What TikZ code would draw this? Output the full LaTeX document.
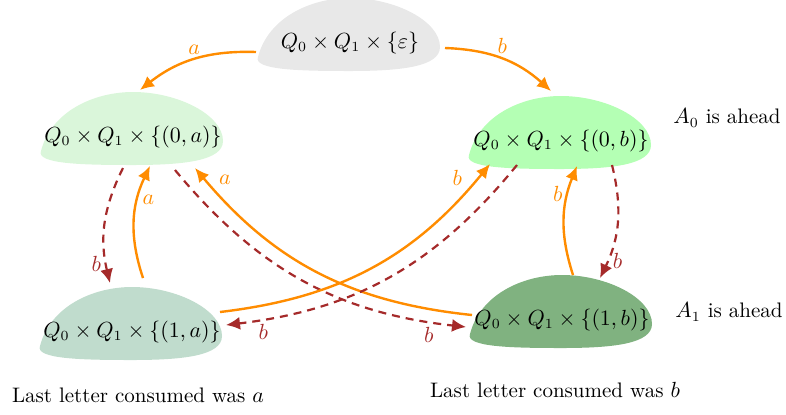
\documentclass[tikz,border=0pt]{standalone}
\usetikzlibrary{arrows.meta,calc,backgrounds}

\definecolor{arcorange}{RGB}{255,140,0}
\definecolor{arcbrown}{RGB}{165,42,42}
\definecolor{fillgray}{RGB}{232,232,232}
\definecolor{fillpale}{RGB}{218,246,218}
\definecolor{fillbright}{RGB}{180,255,180}
\definecolor{fillsage}{RGB}{192,220,205}
\definecolor{filldark}{RGB}{128,178,128}

% a blob round the state node #1, filled with #2
\newcommand{\stateblob}[2]{%
  \fill[#2] ($(#1)+(-92,14)$) .. controls ($(#1)+(-82,-25)$) and ($(#1)+(-40,-45)$) .. ($(#1)+(0,-45)$)
    .. controls ($(#1)+(45,-45)$) and ($(#1)+(90,-22)$) .. ($(#1)+(90,4)$)
    .. controls ($(#1)+(90,24)$) and ($(#1)+(50,28)$) .. ($(#1)+(0,28)$)
    .. controls ($(#1)+(-50,28)$) and ($(#1)+(-97,27)$) .. ($(#1)+(-92,14)$) -- cycle;}

\begin{document}
\begin{tikzpicture}[x=0.5pt,y=-0.5pt,
  font=\fontsize{10.5}{13}\selectfont,
  state/.style={inner sep=0pt},
  trans/.style={color=arcorange,line width=1.2pt,-{Latex[length=7pt,width=6.5pt]}},
  back/.style={color=arcbrown,line width=1.1pt,dash pattern=on 4pt off 3pt,-{Latex[length=7pt,width=6.5pt]}},
  lbl/.style={inner sep=2pt}]

\useasboundingbox (0,0) rectangle (786,414);

% The states
\node[state] (top) at (350,43) {$Q_0\times Q_1\times\{\varepsilon\}$};
\node[state] (l1) at (133,137) {$Q_0\times Q_1\times\{(0,a)\}$};
\node[state] (r1) at (561,141) {$Q_0\times Q_1\times\{(0,b)\}$};
\node[state] (l2) at (132,332) {$Q_0\times Q_1\times\{(1,a)\}$};
\node[state] (r2) at (562,320) {$Q_0\times Q_1\times\{(1,b)\}$};

% The blobs
\begin{scope}[on background layer]
\stateblob{top}{fillgray}
\stateblob{l1}{fillpale}
\stateblob{r1}{fillbright}
\stateblob{l2}{fillsage}
\stateblob{r2}{filldark}
\end{scope}

% The side texts
\node (ahead0) at (727,118) {$A_0$ is ahead};
\node (ahead1) at (729,312) {$A_1$ is ahead};
\node (lasta) at (138,395) {Last letter consumed was $a$};
\node (lastb) at (555,390) {Last letter consumed was $b$};

% The first letters
\draw[trans] ($(top)+(-94,9)$) to[bend right=20] node[lbl,above] {$a$} ($(l1)+(7,-47)$);
\draw[trans] ($(top)+(95,5)$) to[bend left=20] node[lbl,above] {$b$} ($(r1)+(-10,-50)$);

% The left column
\draw[back] ($(l1)+(-10,31)$) to[bend right=20] node[lbl,pos=0.85,left] {$b$} ($(l2)+(-22,-49)$);
\draw[trans] ($(l2)+(11,-54)$) to[bend left=22] node[lbl,pos=0.7,right] {$a$} ($(l1)+(17,29)$);

% The right column
\draw[back] ($(r1)+(51,24)$) to[bend left=20] node[lbl,pos=0.85,right] {$b$} ($(r2)+(38,-42)$);
\draw[trans] ($(r2)+(11,-45)$) to[bend left=20] node[lbl,pos=0.75,left] {$b$} ($(r1)+(16,25)$);

% The crossings
\draw[back] ($(l1)+(42,33)$) to[bend right=22] node[lbl,pos=0.9,below] {$b$} ($(r2)+(-96,7)$);
\draw[trans] ($(r2)+(-90,-5)$) to[bend left=22] node[lbl,pos=0.92,above right] {$a$} ($(l1)+(62,31)$);
\draw[trans] ($(l2)+(88,-20)$) to[bend right=22] node[lbl,pos=0.9,above left] {$b$} ($(r1)+(-71,23)$);
\draw[back] ($(r1)+(-44,24)$) to[bend left=22] node[lbl,pos=0.9,below] {$b$} ($(l2)+(94,-7)$);

\end{tikzpicture}
\end{document}
